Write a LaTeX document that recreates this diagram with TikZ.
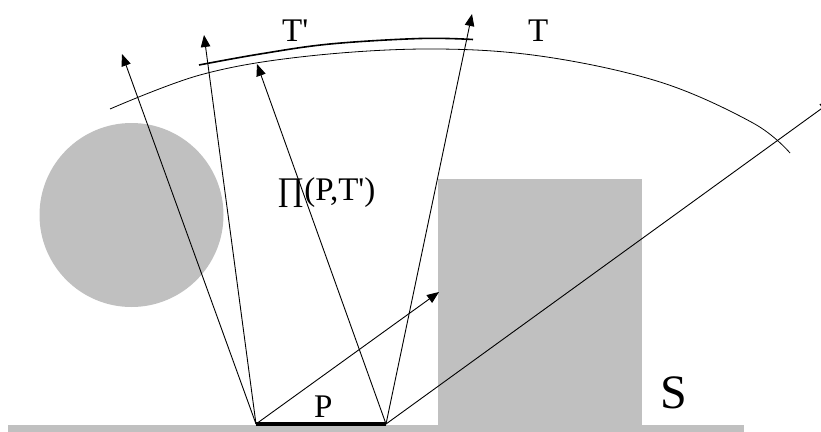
\documentclass[tikz,border=0pt]{standalone}
\usepackage{fontspec}
\usepackage{tikz}
\usetikzlibrary{arrows.meta}
\newfontfamily\lblfont{Liberation Serif}[Ligatures=TeXOff]
\definecolor{obstcol}{HTML}{C0C0C0}
\tikzset{
  ray/.style={->, line width=0.9pt},
  arcline/.style={line width=0.8pt},
  lbl/.style={anchor=base west, inner sep=0pt, font=\lblfont\fontsize{33}{36}\selectfont},
}

\begin{document}
\begin{tikzpicture}[x=1pt, y=-1pt, >={Triangle[length=12pt, width=9.5pt]}]
  \useasboundingbox (0,0) rectangle (821,431);
  \clip (0,0) rectangle (821,431);
  % occluders and ground
  \fill[obstcol] (131.5,215) circle (92);
  \fill[obstcol] (438,179) rectangle (642,425);
  \fill[obstcol] (8,425) rectangle (744,432);
  % patch
  \coordinate (Pl) at (256,424);
  \coordinate (Pr) at (386,424);
  \draw[line width=4pt] (Pl) -- (Pr);
  % hemisphere and projected patch
  \draw[arcline] plot[smooth, tension=0.6] coordinates {(110,109) (200,75) (300,57) (425,49) (540,56) (660,82) (753,123) (790,153)};
  \draw[line width=1.6pt] plot[smooth, tension=0.6] coordinates {(199,65) (260,54) (330,44) (420,38.5) (473,39.5)};
  % rays
  \coordinate (r1) at (122,54);
  \coordinate (r2) at (204,35);
  \coordinate (r3) at (257,64);
  \coordinate (r4) at (472,14);
  \coordinate (r5) at (439,292);
  \coordinate (r6) at (832,101);
  \draw[ray] (Pl) -- (r1);
  \draw[ray] (Pl) -- (r2);
  \draw[ray] (Pl) -- (r5);
  \draw[ray] (Pr) -- (r3);
  \draw[ray] (Pr) -- (r4);
  \draw[ray] (Pr) -- (r6);
  % labels
  \node[lbl] (Tp) at (282,41) {T'};
  \node[lbl] (T) at (528,41) {T};
  \node[lbl] (Pi) at (277,200) {∏(P,T')};
  \node[lbl] (P) at (314,417) {P};
  \node[lbl, font=\lblfont\fontsize{48}{52}\selectfont] (S) at (660,408) {S};
\end{tikzpicture}
\end{document}
